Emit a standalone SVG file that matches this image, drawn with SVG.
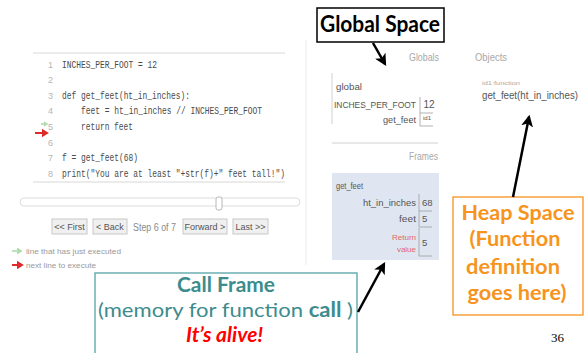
<svg xmlns="http://www.w3.org/2000/svg" width="586" height="353" viewBox="0 0 586 353">
<style>
.code{font-family:"Liberation Mono",monospace;font-size:10px;fill:#4a4a4a;}
.ln{font-family:"Liberation Sans",sans-serif;font-size:9px;fill:#b5b5b5;text-anchor:end;}
.ui{font-family:"Liberation Sans",sans-serif;font-size:9.5px;fill:#555;}
.hdr{font-family:"Liberation Sans",sans-serif;font-size:10px;fill:#a8a8a8;}
.btn{fill:#f0f0f0;stroke:#c8c8c8;stroke-width:1;}
.btxt{font-family:"Liberation Sans",sans-serif;font-size:9px;fill:#555;text-anchor:middle;}
.leg{font-family:"Liberation Sans",sans-serif;font-size:8px;fill:#999;}
.cell{stroke:#a0a0a0;stroke-width:0.8;fill:none;}
.call{font-family:Lato,"Liberation Sans",sans-serif;fill:#3c8c8e;}
.heap{font-family:Lato,"Liberation Sans",sans-serif;font-weight:bold;fill:#f7941d;text-anchor:middle;font-size:21px;}
.conn{stroke:#000;stroke-width:2.5;fill:none;marker-end:url(#head);}
</style>
<defs>
<marker id="head" viewBox="0 0 10 10" refX="8" refY="5" markerUnits="userSpaceOnUse" markerWidth="12" markerHeight="12" orient="auto">
<path d="M0,0 L10,5 L0,10 L2.5,5 z" fill="#000"/>
</marker>
</defs>
<rect width="586" height="353" fill="#fff"/>

<g id="code-panel">
<line x1="33" y1="53" x2="285" y2="53" stroke="#d8d8d8"/>
<line x1="33" y1="182" x2="285" y2="182" stroke="#d8d8d8"/>
<text class="ln" x="53" y="67.5">1</text>
<text class="ln" x="53" y="83">2</text>
<text class="ln" x="53" y="98.5">3</text>
<text class="ln" x="53" y="114">4</text>
<text class="ln" x="53" y="130">5</text>
<text class="ln" x="53" y="145.5">6</text>
<text class="ln" x="53" y="161">7</text>
<text class="ln" x="53" y="176.5">8</text>
<text class="code" x="62" y="67.5" textLength="95" lengthAdjust="spacingAndGlyphs">INCHES_PER_FOOT = 12</text>
<text class="code" x="62" y="98.5" textLength="128" lengthAdjust="spacingAndGlyphs">def get_feet(ht_in_inches):</text>
<text class="code" x="81" y="114" textLength="181" lengthAdjust="spacingAndGlyphs">feet = ht_in_inches // INCHES_PER_FOOT</text>
<text class="code" x="81" y="130" textLength="52" lengthAdjust="spacingAndGlyphs">return feet</text>
<text class="code" x="62" y="161" textLength="76" lengthAdjust="spacingAndGlyphs">f = get_feet(68)</text>
<text class="code" x="62" y="176.5" textLength="223" lengthAdjust="spacingAndGlyphs">print("You are at least "+str(f)+" feet tall!")</text>
<path d="M41,124 H45.5 M44,122 L47,124 L44,126" stroke="#a8d8a8" stroke-width="1.3" fill="none"/>
<path d="M35,133 H43 V130.5 L47,133 L43,135.5 V133" stroke="#e02a2a" stroke-width="2" fill="#e02a2a"/>
</g>

<line x1="306" y1="40" x2="306" y2="265" stroke="#ececec"/>

<g id="controls">
<rect x="20" y="198" width="280" height="8" rx="4" fill="#fff" stroke="#dcdcdc"/>
<rect x="216" y="197" width="6" height="13" rx="2" fill="#fff" stroke="#b8b8b8"/>
<rect class="btn" x="52" y="219" width="35" height="15"/>
<text class="btxt" x="69.5" y="230">&lt;&lt; First</text>
<rect class="btn" x="93" y="219" width="34" height="15"/>
<text class="btxt" x="110" y="230">&lt; Back</text>
<text class="ui" x="133" y="230.5" style="fill:#8a8a8a;font-size:10px" textLength="43" lengthAdjust="spacingAndGlyphs">Step 6 of 7</text>
<rect class="btn" x="183" y="219" width="44" height="15"/>
<text class="btxt" x="205" y="230">Forward &gt;</text>
<rect class="btn" x="233" y="219" width="35" height="15"/>
<text class="btxt" x="250.5" y="230">Last &gt;&gt;</text>
</g>

<g id="legend">
<path d="M12,251 H19 M17,248.5 L21,251 L17,253.5" stroke="#a8d8a8" stroke-width="1.5" fill="none"/>
<text class="leg" x="26" y="254" textLength="95" lengthAdjust="spacingAndGlyphs">line that has just executed</text>
<path d="M12,265 H18 V262.5 L22,265 L18,267.5 V265" stroke="#e02a2a" stroke-width="2" fill="#e02a2a"/>
<text class="leg" x="26" y="268" textLength="70" lengthAdjust="spacingAndGlyphs">next line to execute</text>
</g>

<g id="globals">
<text class="hdr" x="409" y="61" textLength="30" lengthAdjust="spacingAndGlyphs">Globals</text>
<line x1="332" y1="73" x2="332" y2="124" stroke="#d0d0d0"/>
<text class="ui" x="336" y="90" style="font-size:9px" textLength="26" lengthAdjust="spacingAndGlyphs">global</text>
<text class="ui" x="416" y="108" text-anchor="end" style="font-size:9px" textLength="82" lengthAdjust="spacingAndGlyphs">INCHES_PER_FOOT</text>
<path class="cell" d="M420,97 V113 H433"/>
<text class="ui" x="423.5" y="108" style="font-size:10px">12</text>
<text class="ui" x="416" y="123" text-anchor="end" style="font-size:9px" textLength="33" lengthAdjust="spacingAndGlyphs">get_feet</text>
<path class="cell" d="M420,113 V126 H433"/>
<text class="ui" x="423" y="120" style="font-size:6px">id1</text>
<line x1="332" y1="143" x2="438" y2="143" stroke="#d0d0d0"/>
</g>

<g id="frames">
<text class="hdr" x="438" y="160" text-anchor="end" textLength="29" lengthAdjust="spacingAndGlyphs">Frames</text>
<rect x="332" y="173" width="107" height="87" fill="#dfe6f1"/>
<text class="ui" x="336" y="189" style="font-size:9px" textLength="27" lengthAdjust="spacingAndGlyphs">get_feet</text>
<text class="ui" x="416" y="206" text-anchor="end" textLength="53" lengthAdjust="spacingAndGlyphs">ht_in_inches</text>
<path class="cell" d="M419,194 V211 H432"/>
<text class="ui" x="422" y="206">68</text>
<text class="ui" x="416" y="222" text-anchor="end" textLength="17" lengthAdjust="spacingAndGlyphs">feet</text>
<path class="cell" d="M419,211 V227 H432"/>
<text class="ui" x="422" y="222">5</text>
<text class="ui" x="416" y="240" text-anchor="end" style="font-size:8px;fill:#e06666">Return</text>
<text class="ui" x="416" y="252" text-anchor="end" style="font-size:8px;fill:#e06666">value</text>
<path class="cell" d="M419,228 V256 H432"/>
<text class="ui" x="422" y="246">5</text>
</g>

<g id="objects">
<text class="hdr" x="475" y="61" textLength="32" lengthAdjust="spacingAndGlyphs">Objects</text>
<text class="hdr" x="482" y="85" style="font-size:6px" textLength="38" lengthAdjust="spacingAndGlyphs">id1:function</text>
<text class="ui" x="482" y="99" style="font-size:10px" textLength="96" lengthAdjust="spacingAndGlyphs">get_feet(ht_in_inches)</text>
</g>

<g id="global-space">
<rect x="317" y="8" width="127" height="34" fill="#fff" stroke="#000" stroke-width="1.5"/>
<text x="380" y="32" text-anchor="middle" font-family="Lato, 'Liberation Sans', sans-serif" font-weight="bold" font-size="22" fill="#000" textLength="120" lengthAdjust="spacingAndGlyphs">Global Space</text>
</g>

<g id="heap-space">
<rect x="453" y="197" width="130" height="118" fill="#fff" stroke="#f9a13a" stroke-width="1.5"/>
<text class="heap" x="518" y="220" textLength="113" lengthAdjust="spacingAndGlyphs">Heap Space</text>
<text class="heap" x="515" y="246" textLength="91" lengthAdjust="spacingAndGlyphs">(Function</text>
<text class="heap" x="513" y="274" textLength="94" lengthAdjust="spacingAndGlyphs">definition</text>
<text class="heap" x="517" y="300" textLength="99" lengthAdjust="spacingAndGlyphs">goes here)</text>
</g>

<g id="call-frame">
<rect x="95" y="273" width="262" height="90" fill="#fff" stroke="#6aaeb2" stroke-width="1.5"/>
<text class="call" x="226" y="292" text-anchor="middle" font-weight="bold" font-size="21" textLength="98" lengthAdjust="spacingAndGlyphs">Call Frame</text>
<text class="call" x="98" y="317" font-size="20" textLength="255" lengthAdjust="spacingAndGlyphs">(memory for function <tspan font-weight="bold">call</tspan> )</text>
<text x="224.5" y="342" text-anchor="middle" font-family="Lato, 'Liberation Sans', sans-serif" font-weight="bold" font-style="italic" font-size="20" fill="#ff0000" textLength="77" lengthAdjust="spacingAndGlyphs">It’s alive!</text>
</g>

<g id="connectors">
<line class="conn" x1="373" y1="43" x2="385" y2="64"/>
<line class="conn" x1="513" y1="197" x2="529" y2="117"/>
<line class="conn" x1="358" y1="312" x2="384" y2="264"/>
</g>

<text x="551" y="342" font-family="'Liberation Serif', serif" font-size="13" fill="#000">36</text>
</svg>
